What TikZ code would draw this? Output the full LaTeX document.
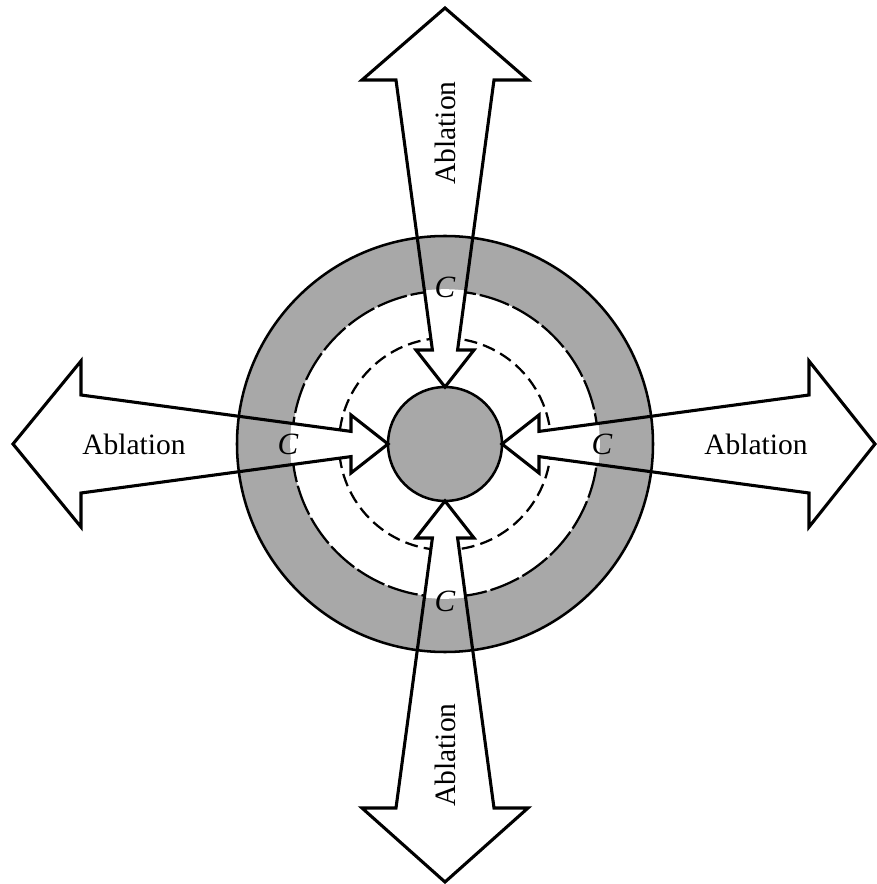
\documentclass[tikz,border=0pt]{standalone}
\usepackage{fontspec}
\setmainfont{Liberation Serif}
\usetikzlibrary{positioning}
\definecolor{ringgray}{gray}{0.66}
\tikzset{
    ablation/.style={x=0.0125cm, y=0.0125cm},
    shell/.style={fill=ringgray, even odd rule},
    rim/.style={line width=0.9pt},
    front/.style={line width=0.8pt, dash pattern=on 4.6pt off 2.2pt},
    % inner edge of the shell: long dashes, short gaps
    shelledge/.style={line width=0.8pt, dash pattern=on 11pt off 1.4pt},
    core/.style={fill=ringgray, draw, line width=0.9pt},
    blast/.style={draw, line width=1.1pt, line join=miter},
    lbl/.style={font=\fontsize{10.5}{12}\selectfont, inner sep=1pt},
    clbl/.style={font=\fontsize{11}{12}\selectfont\itshape, inner sep=1pt},
}
% double arrow, pointing along +x, outer tip at #1
\newcommand{\ablarrow}[1]{(57,0) -- (94,29) -- (94,12.6) -- (364,49) -- (364,83) -- (#1,0)
    -- (364,-83) -- (364,-49) -- (94,-12.6) -- (94,-29) -- cycle}

\begin{document}
\begin{tikzpicture}[ablation]
    \useasboundingbox (-445,-440) rectangle (431,444);

    \fill[shell] (0,0) circle (208) circle (153);
    \draw[front] (0,0) circle (106);
    \draw[shelledge] (0,0) circle (153);

    % clear the shafts inside the shell
    \begin{scope}
        \clip (0,0) circle (154.8);
        \foreach \ang/\tip in {0/430, 90/436, 180/432, 270/438}
            \fill[white, rotate=\ang] \ablarrow{\tip};
    \end{scope}

    \draw[rim] (0,0) circle (208);
    \node[core, circle, minimum size=114*0.0125cm, inner sep=0pt] (pellet) at (0,0) {};

    \foreach \ang/\tip/\turn in {0/430/0, 90/436/90, 180/432/0, 270/438/90} {
        \draw[blast, rotate=\ang] \ablarrow{\tip};
        \node[lbl, rotate=\turn] (abl-\ang) at (\ang:311) {Ablation};
        \node[clbl] (c-\ang) at (\ang:157) {C};
    }
\end{tikzpicture}
\end{document}
